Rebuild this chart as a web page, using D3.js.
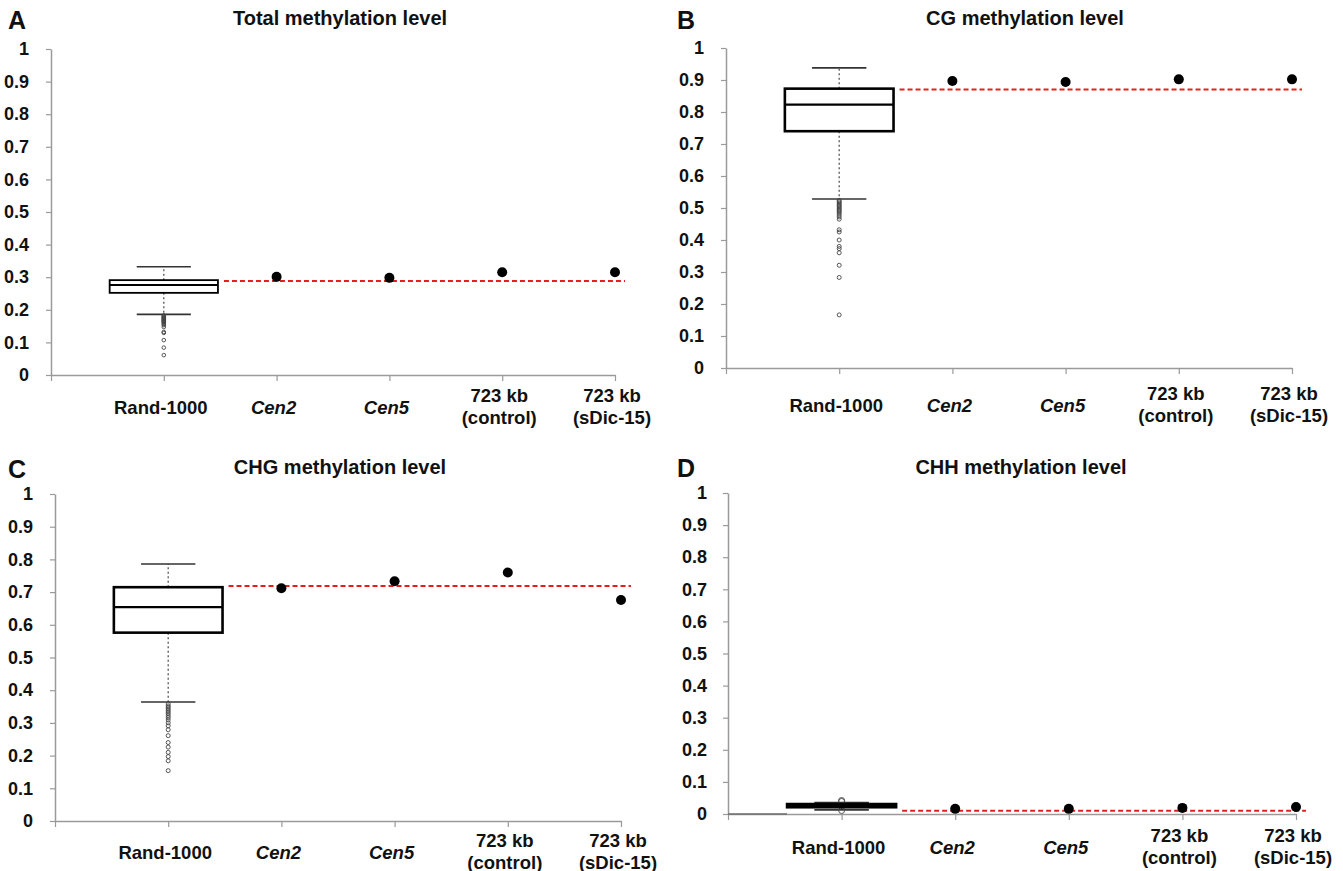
<!DOCTYPE html>
<html>
<head>
<meta charset="utf-8">
<script src="https://cdn.jsdelivr.net/npm/d3@7"></script>
<style>
  body { margin: 0; background: #fff; }
  text { font-family: "Liberation Sans", Arial, sans-serif; font-weight: bold; fill: #111; }
</style>
</head>
<body>
<script>
// categories along the x axis (a "|" splits a label into two lines)
const categories = ["Rand-1000", "Cen2", "Cen5", "723 kb|(control)", "723 kb|(sDic-15)"];
const italicCats = ["Cen2", "Cen5"];
const yTicks = [0, 0.1, 0.2, 0.3, 0.4, 0.5, 0.6, 0.7, 0.8, 0.9, 1];
const yTickLabels = ["0", "0.1", "0.2", "0.3", "0.4", "0.5", "0.6", "0.7", "0.8", "0.9", "1"];
const panelLetters = ["A", "B", "C", "D"];
const panelTitles = ["Total methylation level", "CG methylation level", "CHG methylation level", "CHH methylation level"];

// Rand-1000 box: [lower whisker, q1, median, q3, upper whisker]
const boxTotal = [0.186, 0.252, 0.276, 0.291, 0.332];
const boxCG = [0.528, 0.740, 0.823, 0.873, 0.938];
const boxCHG = [0.364, 0.576, 0.654, 0.715, 0.786];
const boxCHH = [0.013, 0.021, 0.026, 0.031, 0.036];

// Rand-1000 outliers
const outTotal = [0.183, 0.180, 0.178, 0.176, 0.174, 0.172, 0.170, 0.168, 0.166, 0.164, 0.162, 0.160, 0.156, 0.153, 0.147, 0.132, 0.129, 0.107, 0.084, 0.061];
const outCG = [0.524, 0.520, 0.516, 0.512, 0.508, 0.504, 0.500, 0.496, 0.492, 0.488, 0.484, 0.478, 0.472, 0.465, 0.432, 0.425, 0.400, 0.380, 0.373, 0.360, 0.321, 0.283, 0.166];
const outCHG = [0.358, 0.352, 0.348, 0.343, 0.338, 0.333, 0.328, 0.322, 0.316, 0.309, 0.300, 0.291, 0.279, 0.261, 0.240, 0.226, 0.210, 0.197, 0.184, 0.154];
const outCHH = [0.042, 0.039, 0.011];

// Cen2, Cen5, 723 kb (control), 723 kb (sDic-15)
const dotsTotal = [0.301, 0.298, 0.315, 0.315];
const dotsCG = [0.897, 0.894, 0.902, 0.902];
const dotsCHG = [0.712, 0.733, 0.760, 0.676];
const dotsCHH = [0.016, 0.016, 0.019, 0.022];

// red dashed reference levels
const refTotal = 0.288;
const refCG = 0.870;
const refCHG = 0.719;
const refCHH = 0.010;

const W = 1343, H = 871;

const panels = [
  {box: boxTotal, out: outTotal, dots: dotsTotal, ref: refTotal,
   left: 51, right: 615, top: 49, bottom: 375, titleX: 340, titleY: 25, letterX: 8, letterY: 29,
   labelDy: 32, tickPad: 17, boxStroke: 1.8, outR: 1.8},
  {box: boxCG, out: outCG, dots: dotsCG, ref: refCG,
   left: 726, right: 1292, top: 48, bottom: 368, titleX: 1025, titleY: 25, letterX: 677, letterY: 29,
   labelDy: 37, tickPad: 17, boxStroke: 2.6, outR: 2},
  {box: boxCHG, out: outCHG, dots: dotsCHG, ref: refCHG,
   left: 55, right: 621, top: 494, bottom: 821, titleX: 340, titleY: 474, letterX: 8, letterY: 478,
   labelDy: 31, tickPad: 17, boxStroke: 2.6, outR: 2},
  {box: boxCHH, out: outCHH, dots: dotsCHH, ref: refCHH,
   left: 728, right: 1296, top: 493, bottom: 814, titleX: 1021, titleY: 474, letterX: 677, letterY: 477,
   labelDy: 33, tickPad: 16, boxStroke: 2.6, outR: 3, baseline: true}
];

const svg = d3.select("body").append("svg")
  .attr("width", W)
  .attr("height", H);

panels.forEach((p, pi) => {
  const g = svg.append("g");

  const x = d3.scaleLinear().domain([0, categories.length]).range([p.left, p.right]);
  const y = d3.scaleLinear().domain([0, 1]).range([p.bottom, p.top]);
  const step = x(1) - x(0);
  const bw = step * 0.48;

  // panel letter + title
  g.append("text")
    .attr("x", p.letterX).attr("y", p.letterY)
    .style("font-size", "25px")
    .text(panelLetters[pi]);
  g.append("text")
    .attr("x", p.titleX).attr("y", p.titleY)
    .attr("text-anchor", "middle")
    .style("font-size", "20px")
    .text(panelTitles[pi]);

  // y axis
  const ya = g.append("g")
    .attr("transform", "translate(" + p.left + ",0)")
    .call(d3.axisLeft(y).tickValues(yTicks).tickFormat((d, i) => yTickLabels[i])
      .tickSize(5).tickSizeOuter(0).tickPadding(p.tickPad));
  ya.select(".domain").attr("stroke", "#9a9a9a").attr("stroke-width", 1.5);
  ya.selectAll(".tick line").attr("stroke", "#9a9a9a").attr("stroke-width", 1.2);
  ya.selectAll(".tick text")
    .style("font-size", "18px")
    .style("font-family", "'Liberation Sans', Arial, sans-serif")
    .style("font-weight", "bold")
    .attr("fill", "#111");

  // x axis (ticks only, labels below)
  const xa = g.append("g")
    .attr("transform", "translate(0," + p.bottom + ")")
    .call(d3.axisBottom(x).tickValues(d3.range(0, categories.length + 1))
      .tickFormat("").tickSize(6).tickSizeOuter(0));
  xa.select(".domain").attr("stroke", "#9a9a9a").attr("stroke-width", 1.5);
  xa.selectAll(".tick line").attr("stroke", "#9a9a9a").attr("stroke-width", 1.2);

  if (p.baseline) {
    g.append("line")
      .attr("x1", x(0)).attr("x2", x(1) - bw)
      .attr("y1", y(0)).attr("y2", y(0))
      .attr("stroke", "#6e6e6e").attr("stroke-width", 1.6);
  }

  categories.forEach((c, i) => {
    const lines = c.split("|");
    const t = g.append("text")
      .attr("x", x(i + 1) - 3)
      .attr("text-anchor", "middle")
      .attr("dominant-baseline", "central")
      .style("font-size", "18.5px")
      .style("font-style", italicCats.includes(c) ? "italic" : "normal");
    if (lines.length === 1) {
      t.attr("y", p.bottom + p.labelDy).text(c);
    } else {
      lines.forEach((l, li) => {
        t.append("tspan")
          .attr("x", x(i + 1) - 3)
          .attr("y", p.bottom + p.labelDy + (li === 0 ? -12 : 9.5))
          .text(l);
      });
    }
  });

  // box plot for Rand-1000
  const [lo, q1, med, q3, hi] = p.box;
  const cx = x(1);
  const capW = bw / 2;

  g.append("line")
    .attr("x1", cx).attr("x2", cx).attr("y1", y(q3)).attr("y2", y(hi))
    .attr("stroke", "#555").attr("stroke-width", 1.3).attr("stroke-dasharray", "2,2.5");
  g.append("line")
    .attr("x1", cx).attr("x2", cx).attr("y1", y(q1)).attr("y2", y(lo))
    .attr("stroke", "#555").attr("stroke-width", 1.3).attr("stroke-dasharray", "2,2.5");
  [lo, hi].forEach(v => {
    g.append("line")
      .attr("x1", cx - capW).attr("x2", cx + capW).attr("y1", y(v)).attr("y2", y(v))
      .attr("stroke", "#333").attr("stroke-width", 1.6);
  });

  g.selectAll(".outlier")
    .data(p.out)
    .enter().append("circle")
    .attr("class", "outlier")
    .attr("cx", cx)
    .attr("cy", d => y(d))
    .attr("r", p.outR)
    .attr("fill", "none")
    .attr("stroke", "#444")
    .attr("stroke-width", 0.9);

  g.append("rect")
    .attr("x", cx - bw).attr("width", bw * 2)
    .attr("y", y(q3)).attr("height", y(q1) - y(q3))
    .attr("fill", "none")
    .attr("stroke", "#000").attr("stroke-width", p.boxStroke);
  g.append("line")
    .attr("x1", cx - bw).attr("x2", cx + bw).attr("y1", y(med)).attr("y2", y(med))
    .attr("stroke", "#000").attr("stroke-width", 2.2);

  // red dashed reference
  g.append("line")
    .attr("x1", cx + bw + 6).attr("x2", p.right + 10)
    .attr("y1", y(p.ref)).attr("y2", y(p.ref))
    .attr("stroke", "#e3211c").attr("stroke-width", 2).attr("stroke-dasharray", "5,3");

  // single values
  g.selectAll(".dot")
    .data(p.dots)
    .enter().append("circle")
    .attr("class", "dot")
    .attr("cx", (d, i) => x(i + 2))
    .attr("cy", d => y(d))
    .attr("r", 5)
    .attr("fill", "#000");
});
</script>
</body>
</html>
